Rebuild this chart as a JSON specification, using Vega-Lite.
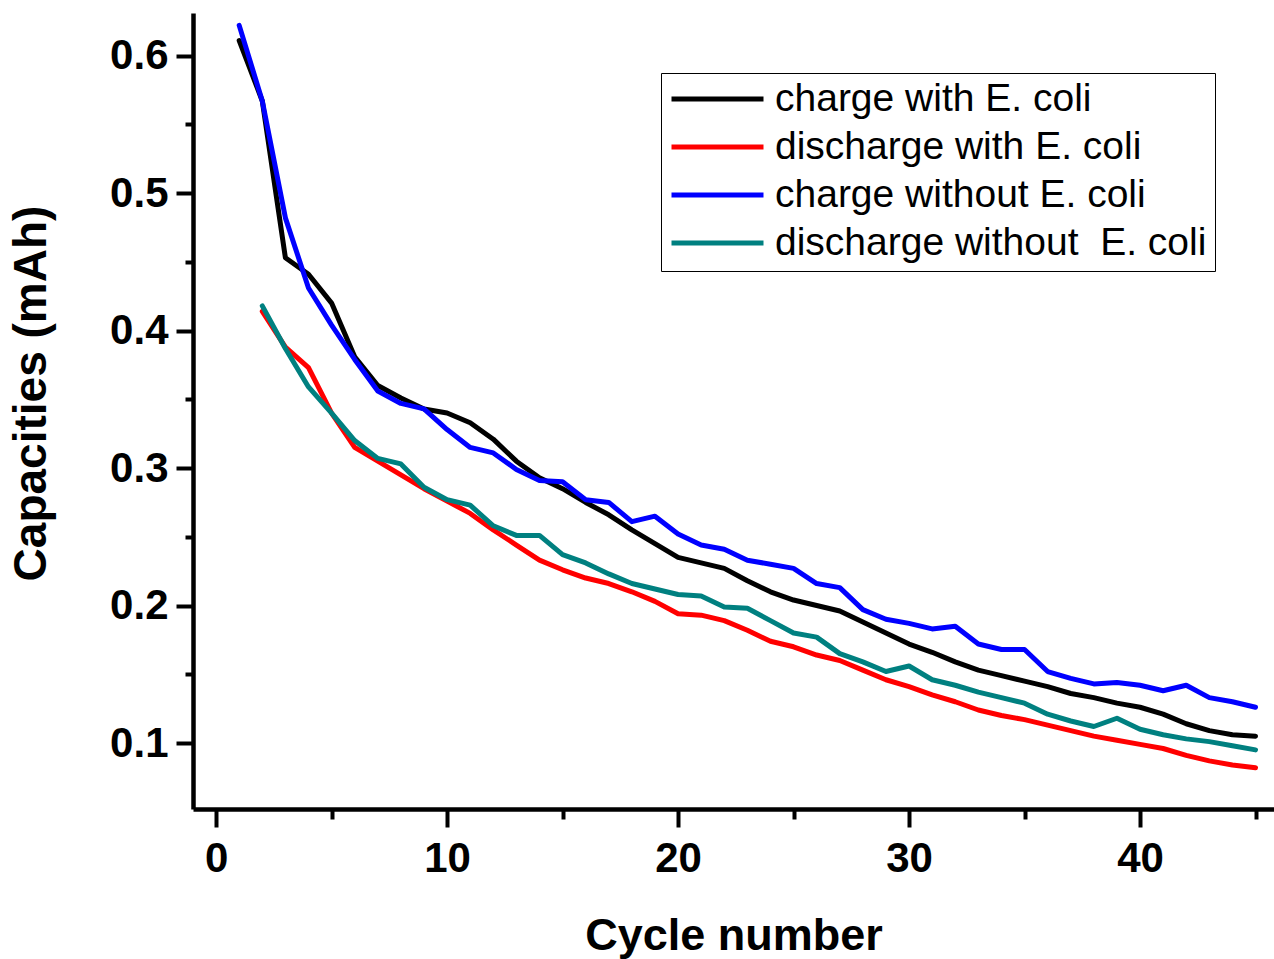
{
  "$schema": "https://vega.github.io/schema/vega-lite/v6.json",
  "autosize": {"type": "none"},
  "padding": {"left": 193, "top": 13, "right": 0, "bottom": 150},
  "width": 1081,
  "height": 796,
  "background": "white",
  "config": {
    "view": {"stroke": null},
    "axis": {
      "domainColor": "black",
      "domainWidth": 4.5,
      "tickColor": "black",
      "tickWidth": 4,
      "grid": false,
      "labelFont": "Liberation Sans",
      "labelFontWeight": "bold",
      "labelFontSize": 42,
      "labelColor": "black",
      "titleFont": "Liberation Sans",
      "titleFontWeight": "bold",
      "titleFontSize": 45,
      "titleColor": "black"
    }
  },
  "data": {
    "values": [
      {"c":1,"s":"charge with E. coli","v":0.611},{"c":2,"s":"charge with E. coli","v":0.567},{"c":3,"s":"charge with E. coli","v":0.453},{"c":4,"s":"charge with E. coli","v":0.441},{"c":5,"s":"charge with E. coli","v":0.420},{"c":6,"s":"charge with E. coli","v":0.381},{"c":7,"s":"charge with E. coli","v":0.360},{"c":8,"s":"charge with E. coli","v":0.351},{"c":9,"s":"charge with E. coli","v":0.343},{"c":10,"s":"charge with E. coli","v":0.340},
      {"c":11,"s":"charge with E. coli","v":0.333},{"c":12,"s":"charge with E. coli","v":0.321},{"c":13,"s":"charge with E. coli","v":0.305},{"c":14,"s":"charge with E. coli","v":0.293},{"c":15,"s":"charge with E. coli","v":0.285},{"c":16,"s":"charge with E. coli","v":0.275},{"c":17,"s":"charge with E. coli","v":0.266},{"c":18,"s":"charge with E. coli","v":0.255},{"c":19,"s":"charge with E. coli","v":0.245},{"c":20,"s":"charge with E. coli","v":0.235},
      {"c":21,"s":"charge with E. coli","v":0.231},{"c":22,"s":"charge with E. coli","v":0.227},{"c":23,"s":"charge with E. coli","v":0.218},{"c":24,"s":"charge with E. coli","v":0.210},{"c":25,"s":"charge with E. coli","v":0.204},{"c":26,"s":"charge with E. coli","v":0.200},{"c":27,"s":"charge with E. coli","v":0.196},{"c":28,"s":"charge with E. coli","v":0.188},{"c":29,"s":"charge with E. coli","v":0.180},{"c":30,"s":"charge with E. coli","v":0.172},
      {"c":31,"s":"charge with E. coli","v":0.166},{"c":32,"s":"charge with E. coli","v":0.159},{"c":33,"s":"charge with E. coli","v":0.153},{"c":34,"s":"charge with E. coli","v":0.149},{"c":35,"s":"charge with E. coli","v":0.145},{"c":36,"s":"charge with E. coli","v":0.141},{"c":37,"s":"charge with E. coli","v":0.136},{"c":38,"s":"charge with E. coli","v":0.133},{"c":39,"s":"charge with E. coli","v":0.129},{"c":40,"s":"charge with E. coli","v":0.126},
      {"c":41,"s":"charge with E. coli","v":0.121},{"c":42,"s":"charge with E. coli","v":0.114},{"c":43,"s":"charge with E. coli","v":0.109},{"c":44,"s":"charge with E. coli","v":0.106},{"c":45,"s":"charge with E. coli","v":0.105},

      {"c":2,"s":"discharge with E. coli","v":0.414},{"c":3,"s":"discharge with E. coli","v":0.388},{"c":4,"s":"discharge with E. coli","v":0.373},{"c":5,"s":"discharge with E. coli","v":0.340},{"c":6,"s":"discharge with E. coli","v":0.315},{"c":7,"s":"discharge with E. coli","v":0.305},{"c":8,"s":"discharge with E. coli","v":0.295},{"c":9,"s":"discharge with E. coli","v":0.285},{"c":10,"s":"discharge with E. coli","v":0.276},
      {"c":11,"s":"discharge with E. coli","v":0.267},{"c":12,"s":"discharge with E. coli","v":0.255},{"c":13,"s":"discharge with E. coli","v":0.244},{"c":14,"s":"discharge with E. coli","v":0.233},{"c":15,"s":"discharge with E. coli","v":0.226},{"c":16,"s":"discharge with E. coli","v":0.220},{"c":17,"s":"discharge with E. coli","v":0.216},{"c":18,"s":"discharge with E. coli","v":0.210},{"c":19,"s":"discharge with E. coli","v":0.203},{"c":20,"s":"discharge with E. coli","v":0.194},
      {"c":21,"s":"discharge with E. coli","v":0.193},{"c":22,"s":"discharge with E. coli","v":0.189},{"c":23,"s":"discharge with E. coli","v":0.182},{"c":24,"s":"discharge with E. coli","v":0.174},{"c":25,"s":"discharge with E. coli","v":0.170},{"c":26,"s":"discharge with E. coli","v":0.164},{"c":27,"s":"discharge with E. coli","v":0.160},{"c":28,"s":"discharge with E. coli","v":0.153},{"c":29,"s":"discharge with E. coli","v":0.146},{"c":30,"s":"discharge with E. coli","v":0.141},
      {"c":31,"s":"discharge with E. coli","v":0.135},{"c":32,"s":"discharge with E. coli","v":0.130},{"c":33,"s":"discharge with E. coli","v":0.124},{"c":34,"s":"discharge with E. coli","v":0.120},{"c":35,"s":"discharge with E. coli","v":0.117},{"c":36,"s":"discharge with E. coli","v":0.113},{"c":37,"s":"discharge with E. coli","v":0.109},{"c":38,"s":"discharge with E. coli","v":0.105},{"c":39,"s":"discharge with E. coli","v":0.102},{"c":40,"s":"discharge with E. coli","v":0.099},
      {"c":41,"s":"discharge with E. coli","v":0.096},{"c":42,"s":"discharge with E. coli","v":0.091},{"c":43,"s":"discharge with E. coli","v":0.087},{"c":44,"s":"discharge with E. coli","v":0.084},{"c":45,"s":"discharge with E. coli","v":0.082},

      {"c":1,"s":"charge without E. coli","v":0.622},{"c":2,"s":"charge without E. coli","v":0.567},{"c":3,"s":"charge without E. coli","v":0.482},{"c":4,"s":"charge without E. coli","v":0.431},{"c":5,"s":"charge without E. coli","v":0.404},{"c":6,"s":"charge without E. coli","v":0.379},{"c":7,"s":"charge without E. coli","v":0.356},{"c":8,"s":"charge without E. coli","v":0.347},{"c":9,"s":"charge without E. coli","v":0.343},{"c":10,"s":"charge without E. coli","v":0.328},
      {"c":11,"s":"charge without E. coli","v":0.315},{"c":12,"s":"charge without E. coli","v":0.311},{"c":13,"s":"charge without E. coli","v":0.299},{"c":14,"s":"charge without E. coli","v":0.291},{"c":15,"s":"charge without E. coli","v":0.290},{"c":16,"s":"charge without E. coli","v":0.277},{"c":17,"s":"charge without E. coli","v":0.275},{"c":18,"s":"charge without E. coli","v":0.261},{"c":19,"s":"charge without E. coli","v":0.265},{"c":20,"s":"charge without E. coli","v":0.252},
      {"c":21,"s":"charge without E. coli","v":0.244},{"c":22,"s":"charge without E. coli","v":0.241},{"c":23,"s":"charge without E. coli","v":0.233},{"c":24,"s":"charge without E. coli","v":0.230},{"c":25,"s":"charge without E. coli","v":0.227},{"c":26,"s":"charge without E. coli","v":0.216},{"c":27,"s":"charge without E. coli","v":0.213},{"c":28,"s":"charge without E. coli","v":0.197},{"c":29,"s":"charge without E. coli","v":0.190},{"c":30,"s":"charge without E. coli","v":0.187},
      {"c":31,"s":"charge without E. coli","v":0.183},{"c":32,"s":"charge without E. coli","v":0.185},{"c":33,"s":"charge without E. coli","v":0.172},{"c":34,"s":"charge without E. coli","v":0.168},{"c":35,"s":"charge without E. coli","v":0.168},{"c":36,"s":"charge without E. coli","v":0.152},{"c":37,"s":"charge without E. coli","v":0.147},{"c":38,"s":"charge without E. coli","v":0.143},{"c":39,"s":"charge without E. coli","v":0.144},{"c":40,"s":"charge without E. coli","v":0.142},
      {"c":41,"s":"charge without E. coli","v":0.138},{"c":42,"s":"charge without E. coli","v":0.142},{"c":43,"s":"charge without E. coli","v":0.133},{"c":44,"s":"charge without E. coli","v":0.130},{"c":45,"s":"charge without E. coli","v":0.126},

      {"c":2,"s":"discharge without  E. coli","v":0.418},{"c":3,"s":"discharge without  E. coli","v":0.387},{"c":4,"s":"discharge without  E. coli","v":0.359},{"c":5,"s":"discharge without  E. coli","v":0.340},{"c":6,"s":"discharge without  E. coli","v":0.320},{"c":7,"s":"discharge without  E. coli","v":0.307},{"c":8,"s":"discharge without  E. coli","v":0.303},{"c":9,"s":"discharge without  E. coli","v":0.286},{"c":10,"s":"discharge without  E. coli","v":0.277},
      {"c":11,"s":"discharge without  E. coli","v":0.273},{"c":12,"s":"discharge without  E. coli","v":0.258},{"c":13,"s":"discharge without  E. coli","v":0.251},{"c":14,"s":"discharge without  E. coli","v":0.251},{"c":15,"s":"discharge without  E. coli","v":0.237},{"c":16,"s":"discharge without  E. coli","v":0.231},{"c":17,"s":"discharge without  E. coli","v":0.223},{"c":18,"s":"discharge without  E. coli","v":0.216},{"c":19,"s":"discharge without  E. coli","v":0.212},{"c":20,"s":"discharge without  E. coli","v":0.208},
      {"c":21,"s":"discharge without  E. coli","v":0.207},{"c":22,"s":"discharge without  E. coli","v":0.199},{"c":23,"s":"discharge without  E. coli","v":0.198},{"c":24,"s":"discharge without  E. coli","v":0.189},{"c":25,"s":"discharge without  E. coli","v":0.180},{"c":26,"s":"discharge without  E. coli","v":0.177},{"c":27,"s":"discharge without  E. coli","v":0.165},{"c":28,"s":"discharge without  E. coli","v":0.159},{"c":29,"s":"discharge without  E. coli","v":0.152},{"c":30,"s":"discharge without  E. coli","v":0.156},
      {"c":31,"s":"discharge without  E. coli","v":0.146},{"c":32,"s":"discharge without  E. coli","v":0.142},{"c":33,"s":"discharge without  E. coli","v":0.137},{"c":34,"s":"discharge without  E. coli","v":0.133},{"c":35,"s":"discharge without  E. coli","v":0.129},{"c":36,"s":"discharge without  E. coli","v":0.121},{"c":37,"s":"discharge without  E. coli","v":0.116},{"c":38,"s":"discharge without  E. coli","v":0.112},{"c":39,"s":"discharge without  E. coli","v":0.118},{"c":40,"s":"discharge without  E. coli","v":0.110},
      {"c":41,"s":"discharge without  E. coli","v":0.106},{"c":42,"s":"discharge without  E. coli","v":0.103},{"c":43,"s":"discharge without  E. coli","v":0.101},{"c":44,"s":"discharge without  E. coli","v":0.098},{"c":45,"s":"discharge without  E. coli","v":0.095}
    ]
  },
  "mark": {"type": "line", "strokeWidth": 5, "strokeCap": "round", "strokeJoin": "round", "clip": true},
  "encoding": {
    "x": {
      "field": "c",
      "type": "quantitative",
      "scale": {"domain": [-1, 45.8], "nice": false, "zero": false},
      "axis": {
        "title": "Cycle number",
        "values": [0, 5, 10, 15, 20, 25, 30, 35, 40, 45],
        "format": "d",
        "labelExpr": "datum.value % 10 === 0 ? datum.label : ''",
        "tickSize": {"condition": {"test": "datum.value % 10 === 0", "value": 18}, "value": 10},
        "labelPadding": 11,
        "labelFlush": false,
        "labelOverlap": false,
        "titlePadding": 34,
        "titleFontSize": 45
      }
    },
    "y": {
      "field": "v",
      "type": "quantitative",
      "scale": {"domain": [0.052, 0.631], "nice": false, "zero": false},
      "axis": {
        "title": "Capacities (mAh)",
        "values": [0.1, 0.15, 0.2, 0.25, 0.3, 0.35, 0.4, 0.45, 0.5, 0.55, 0.6],
        "format": ".1f",
        "labelExpr": "abs(datum.value * 10 - round(datum.value * 10)) < 0.001 ? datum.label : ''",
        "tickSize": {"condition": {"test": "abs(datum.value * 10 - round(datum.value * 10)) < 0.001", "value": 17}, "value": 8},
        "labelPadding": 8,
        "labelFlush": false,
        "labelOverlap": false,
        "titlePadding": 54,
        "titleFontSize": 46,
        "titleY": 380
      }
    },
    "color": {
      "field": "s",
      "type": "nominal",
      "sort": null,
      "scale": {
        "domain": ["charge with E. coli", "discharge with E. coli", "charge without E. coli", "discharge without  E. coli"],
        "range": ["#000000", "#ff0000", "#0000ff", "#008080"]
      },
      "legend": {
        "orient": "none",
        "legendX": 468,
        "legendY": 60,
        "title": null,
        "strokeColor": "black",
        "fillColor": "white",
        "padding": 8,
        "symbolType": "stroke",
        "symbolSize": 8464,
        "symbolStrokeWidth": 5,
        "clipHeight": 36,
        "rowPadding": 9,
        "labelFont": "Liberation Sans",
        "labelFontSize": 39,
        "labelColor": "black",
        "labelOffset": 9,
        "labelLimit": 0,
        "labelExpr": "replace(datum.label, '  ', ' \u00a0')"
      }
    }
  }
}
